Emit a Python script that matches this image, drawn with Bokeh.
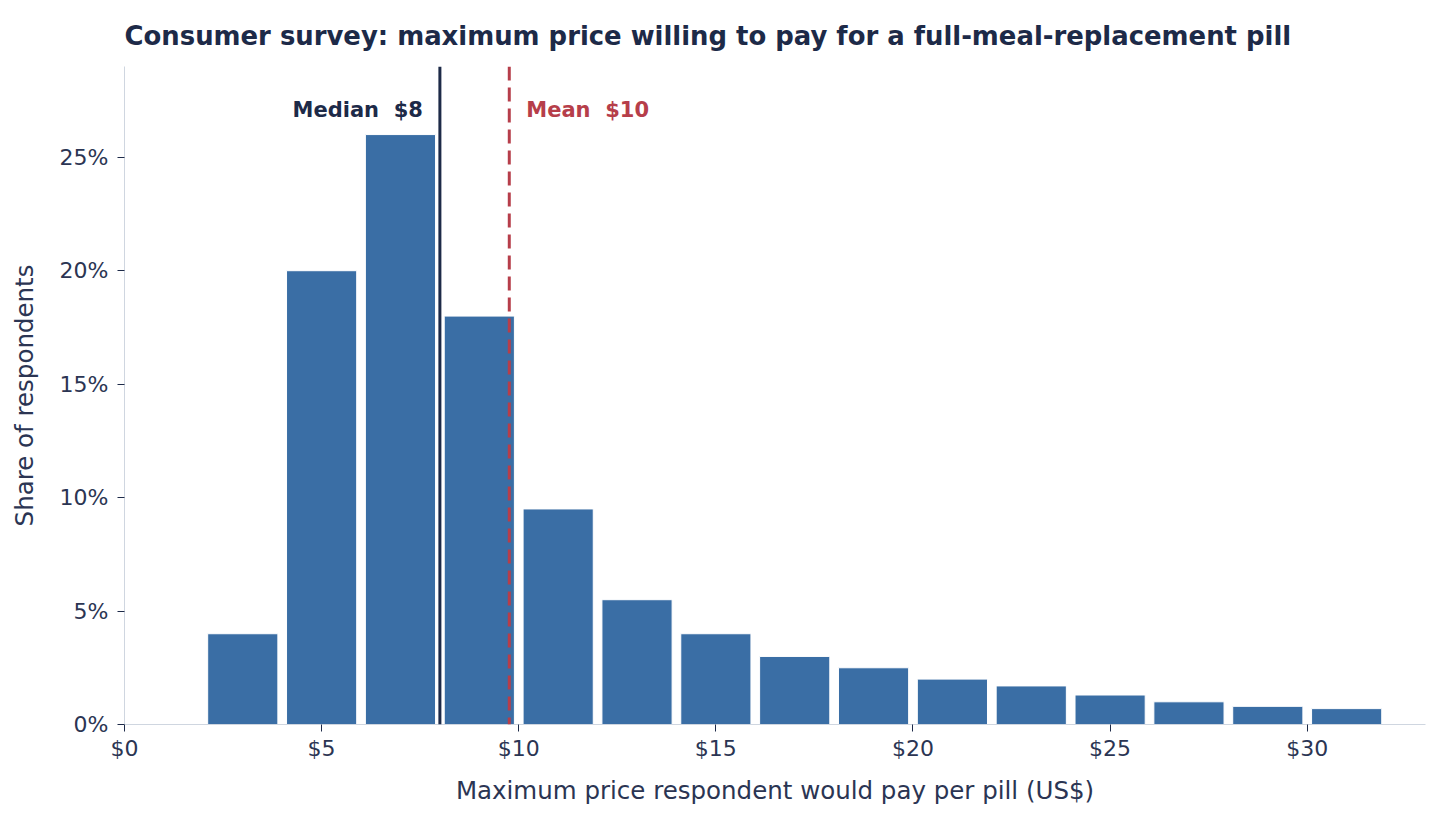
from bokeh.plotting import figure
from bokeh.models import Span, FixedTicker, Label
from bokeh.embed import file_html
from bokeh.resources import INLINE

# ---- data ----
bin_left = [2, 4, 6, 8, 10, 12, 14, 16, 18, 20, 22, 24, 26, 28, 30]
bin_width = 2
share_pct = [4.0, 20.0, 26.0, 18.0, 9.5, 5.5, 4.0, 3.0, 2.5, 2.0, 1.7, 1.3, 1.0, 0.8, 0.7]
x_ticks = [0, 5, 10, 15, 20, 25, 30]
y_ticks = [0, 5, 10, 15, 20, 25]
x_lim = (0, 33)
y_lim = (0, 29)
title_text = "Consumer survey: maximum price willing to pay for a full-meal-replacement pill"

centers = [b + bin_width / 2 for b in bin_left]
total = sum(share_pct)
mean_val = sum(c * s for c, s in zip(centers, share_pct)) / total
cum = 0.0
median_val = None
for b, s in zip(bin_left, share_pct):
    if cum + s >= total / 2:
        median_val = b + (total / 2 - cum) / s * bin_width
        break
    cum += s

NAVY = "#1d2a48"
TEXT = "#2b3553"
BAR = "#3a6ea5"
RED = "#b63e4a"
AXIS = "#cfd6e0"
FONT = "DejaVu Sans"
SP = "\u00a0\u00a0"

p = figure(width=1432, height=811, x_range=x_lim, y_range=y_lim,
           output_backend="svg", toolbar_location=None,
           min_border_left=124, min_border_right=7, min_border_top=66, min_border_bottom=87)

p.title.text = title_text
p.title.text_font = FONT
p.title.text_font_size = "25.9px"
p.title.text_font_style = "bold"
p.title.text_color = NAVY
p.title.align = "left"
p.title.vertical_align = "top"
p.title.standoff = 28

p.vbar(x=centers, top=share_pct, bottom=0, width=1.78, fill_color=BAR,
       line_color="white", line_width=1)

p.add_layout(Span(location=median_val, dimension="height", line_color=NAVY, line_width=3))
p.add_layout(Span(location=mean_val, dimension="height", line_color=RED, line_width=3,
                  line_dash="14 7"))

label_y = 27.1
p.add_layout(Label(x=median_val, y=label_y, x_offset=-17, text=f"Median{SP}${median_val:.0f}",
                   text_font=FONT, text_font_size="21px", text_font_style="bold",
                   text_color=NAVY, text_align="right", text_baseline="middle"))
p.add_layout(Label(x=mean_val, y=label_y, x_offset=17, text=f"Mean{SP}${mean_val:.0f}",
                   text_font=FONT, text_font_size="21px", text_font_style="bold",
                   text_color=RED, text_align="left", text_baseline="middle"))

p.xgrid.visible = False
p.ygrid.visible = False
p.outline_line_color = None

p.xaxis.ticker = FixedTicker(ticks=x_ticks)
p.xaxis.major_label_overrides = {t: f"${t}" for t in x_ticks}
p.yaxis.ticker = FixedTicker(ticks=y_ticks)
p.yaxis.major_label_overrides = {t: f"{t}%" for t in y_ticks}

p.xaxis.axis_label = "Maximum price respondent would pay per pill (US$)"
p.yaxis.axis_label = "Share of respondents"

for ax in (p.xaxis, p.yaxis):
    ax.axis_line_color = AXIS
    ax.axis_line_width = 1
    ax.major_tick_line_color = NAVY
    ax.major_tick_line_width = 1
    ax.major_tick_out = 7
    ax.major_tick_in = 0
    ax.minor_tick_line_color = None
    ax.major_label_text_font = FONT
    ax.major_label_text_font_size = "22px"
    ax.major_label_text_color = TEXT
    ax.axis_label_text_font = FONT
    ax.axis_label_text_font_size = "24.5px"
    ax.axis_label_text_font_style = "normal"
    ax.axis_label_text_color = TEXT

p.xaxis.major_label_standoff = 4
p.xaxis.axis_label_standoff = 12
p.yaxis.major_label_standoff = 9
p.yaxis.axis_label_standoff = 18

open("out.html", "w").write(file_html(p, INLINE))
